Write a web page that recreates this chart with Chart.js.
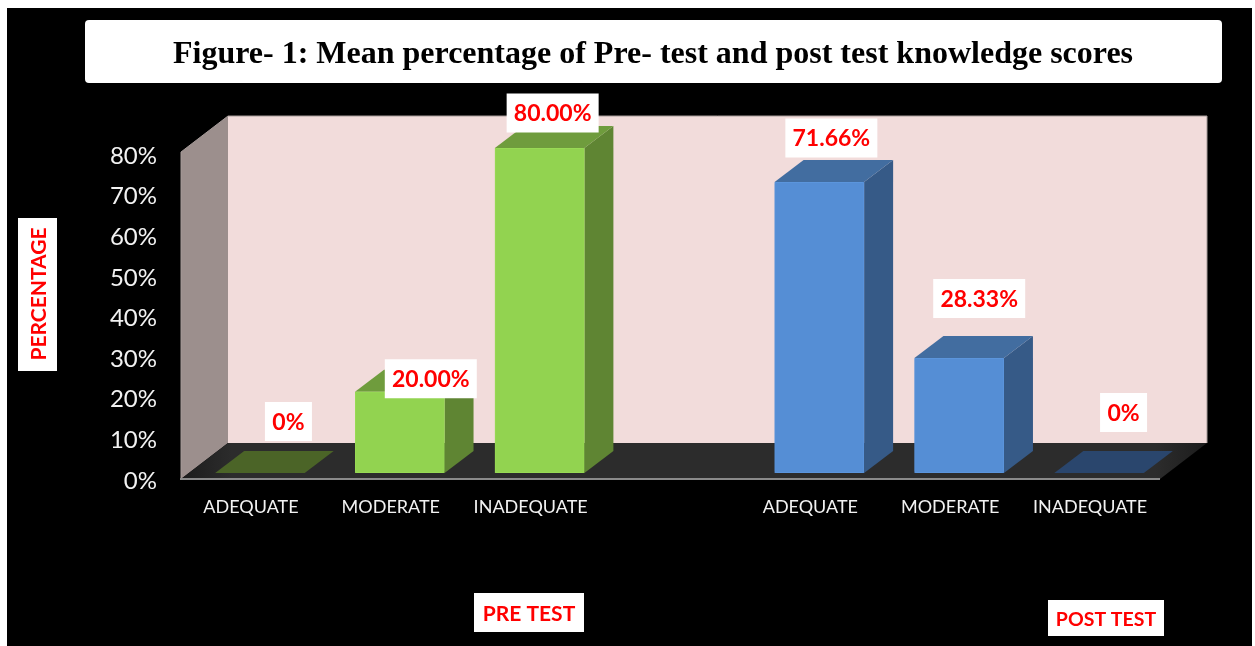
<!DOCTYPE html>
<html><head><meta charset="utf-8">
<style>html,body{margin:0;padding:0;background:#fff;overflow:hidden}canvas{display:block}</style>
<script src="https://cdn.jsdelivr.net/npm/chart.js@4/dist/chart.umd.min.js"></script>
</head><body>
<canvas id="c" width="1255" height="646"></canvas>
<script>
const categories = ['ADEQUATE','MODERATE','INADEQUATE','','ADEQUATE','MODERATE','INADEQUATE'];
const preTest  = [0,20,80,null,null,null,null];
const postTest = [null,null,null,null,71.66,28.33,0];
const yTicks   = [0,10,20,30,40,50,60,70,80];
const chartTitle = 'Figure- 1: Mean percentage of Pre- test and post test knowledge scores';
const yAxisTitle = 'PERCENTAGE';
const groupLabels = ['PRE TEST','POST TEST'];

// styling only
const wallDepth = {x:47,y:-36}, barInset = {x:9,y:-8}, barDepth = {x:29,y:-22};
const preOffsets  = [[37.5,-59.5],[40,-21],[22,-43]];
const postOffsets = {4:[21,-52],5:[29,-67.5],6:[33.5,-68.5]};
const green = {front:'#92d350',side:'#5f8533',top:'#6f9c3d',flat:'#4b6427',edge:'#98da55'};
const blue  = {front:'#558ed5',side:'#365a87',top:'#426da0',flat:'#2a466d',edge:'#5b95dc'};

function poly(ctx,pts,fill){ctx.beginPath();pts.forEach((p,i)=>i?ctx.lineTo(p[0],p[1]):ctx.moveTo(p[0],p[1]));ctx.closePath();ctx.fillStyle=fill;ctx.fill();}
function box(ctx,x,y,w,h,r){ctx.fillStyle='#fff';ctx.beginPath();ctx.roundRect(x,y,w,h,r||0);ctx.fill();}
function label(ctx,t,x,y,font,col){ctx.font=font;ctx.fillStyle=col;ctx.textAlign='center';ctx.textBaseline='middle';ctx.fillText(t,x,y);}

const scene = {
  id:'scene',
  beforeDraw(chart){
    const {ctx,chartArea:a}=chart;
    ctx.save();
    ctx.fillStyle='#fff';ctx.fillRect(0,0,chart.width,chart.height);
    ctx.fillStyle='#000';ctx.fillRect(7,8,1245,638);
    const dx=wallDepth.x,dy=wallDepth.y,t=a.top-4,b=a.bottom-2,l=a.left,r=a.right;
    poly(ctx,[[l+dx,t+dy],[r+dx,t+dy],[r+dx,b+dy],[l+dx,b+dy]],'#f2dcdb');
    poly(ctx,[[l,t],[l+dx,t+dy],[l+dx,b+dy],[l,b]],'#9c8f8d');
    const g=ctx.createLinearGradient(l,0,r+dx,0);
    g.addColorStop(0,'#1c1c1c');g.addColorStop(.05,'#2c2c2c');g.addColorStop(.95,'#2c2c2c');g.addColorStop(1,'#1c1c1c');
    poly(ctx,[[l,b],[l+dx,b+dy],[r+dx,b+dy],[r,b]],g);
    ctx.strokeStyle='#a69b99';ctx.lineWidth=1;
    ctx.beginPath();ctx.moveTo(l,b);ctx.lineTo(l,t);ctx.lineTo(l+dx,t+dy);ctx.lineTo(r+dx,t+dy);ctx.lineTo(r+dx,b+dy);ctx.stroke();
    ctx.strokeStyle='#8a8a8a';ctx.lineWidth=2;
    ctx.beginPath();ctx.moveTo(l-1,b);ctx.lineTo(r,b);ctx.stroke();
    ctx.restore();
  },
  beforeDatasetsDraw(chart){
    const {ctx}=chart;
    ctx.save();ctx.translate(barInset.x,barInset.y);
    chart.data.datasets.forEach((ds,i)=>{
      const c=i?blue:green;
      chart.getDatasetMeta(i).data.forEach((el,j)=>{
        if(ds.data[j]===null)return;
        const L=el.x-el.width/2,R=el.x+el.width/2,T=el.y,B=el.base,X=barDepth.x,Y=barDepth.y;
        if(ds.data[j]===0){poly(ctx,[[L,B],[R,B],[R+X,B+Y],[L+X,B+Y]],c.flat);return;}
        poly(ctx,[[R,T],[R+X,T+Y],[R+X,B+Y],[R,B]],c.side);
        poly(ctx,[[L,T],[L+X,T+Y],[R+X,T+Y],[R,T]],c.top);
        poly(ctx,[[L,T],[R,T],[R,B],[L,B]],c.front);
      });
    });
  },
  afterDatasetsDraw(chart){chart.ctx.restore();},
  afterDraw(chart){
    const {ctx}=chart;
    ctx.save();
    chart.data.datasets.forEach((ds,i)=>{
      chart.getDatasetMeta(i).data.forEach((el,j)=>{
        const v=ds.data[j];
        if(v===null)return;
        const o=i?postOffsets[j]:preOffsets[j];
        const txt=v===0?'0%':v.toFixed(2)+'%';
        const w=v===0?47:92,h=39,x=el.x+o[0],y=el.y+o[1];
        box(ctx,x-w/2,y-h/2,w,h);
        label(ctx,txt,x,y+1,'bold 23px Lato','#ff0000');
      });
    });
    box(ctx,85,20,1137,63,4);
    label(ctx,chartTitle,653,55,'bold 32px "Liberation Serif"','#000');
    box(ctx,18,218,39,153);
    ctx.save();ctx.translate(39,294);ctx.rotate(-Math.PI/2);
    label(ctx,yAxisTitle,0,0,'bold 21px Lato','#ff0000');ctx.restore();
    box(ctx,474,593,110,39);
    label(ctx,groupLabels[0],529,614,'bold 21px Lato','#ff0000');
    box(ctx,1048,600,116,36);
    label(ctx,groupLabels[1],1106,620,'bold 19.5px Lato','#ff0000');
    ctx.restore();
  }
};

new Chart(document.getElementById('c'),{
  type:'bar',
  data:{labels:categories,datasets:[
    {label:groupLabels[0],data:preTest,backgroundColor:green.front,borderColor:green.edge,borderWidth:1,borderRadius:2,borderSkipped:false},
    {label:groupLabels[1],data:postTest,backgroundColor:blue.front,borderColor:blue.edge,borderWidth:1,borderRadius:2,borderSkipped:false}
  ]},
  plugins:[scene],
  options:{
    responsive:false,animation:false,
    events:[],
    layout:{padding:{left:0,right:95,top:156,bottom:0}},
    datasets:{bar:{grouped:false,categoryPercentage:1,barPercentage:.64}},
    plugins:{legend:{display:false},title:{display:false},tooltip:{enabled:false}},
    scales:{
      x:{
        grid:{display:false,drawTicks:false},border:{display:false},
        afterFit(s){s.height=165;},
        ticks:{autoSkip:false,maxRotation:0,minRotation:0,padding:15,color:'#f2f2f2',font:{family:'Lato',size:18}}
      },
      y:{
        min:0,max:80,
        grid:{display:false,drawTicks:false},border:{display:false},
        afterBuildTicks(s){s.ticks=yTicks.map(v=>({value:v}));},
        afterFit(s){s.width=181;},
        ticks:{padding:24,color:'#f2f2f2',font:{family:'Lato',size:24},callback:v=>v+'%'}
      }
    }
  }
});
</script>
</body></html>
